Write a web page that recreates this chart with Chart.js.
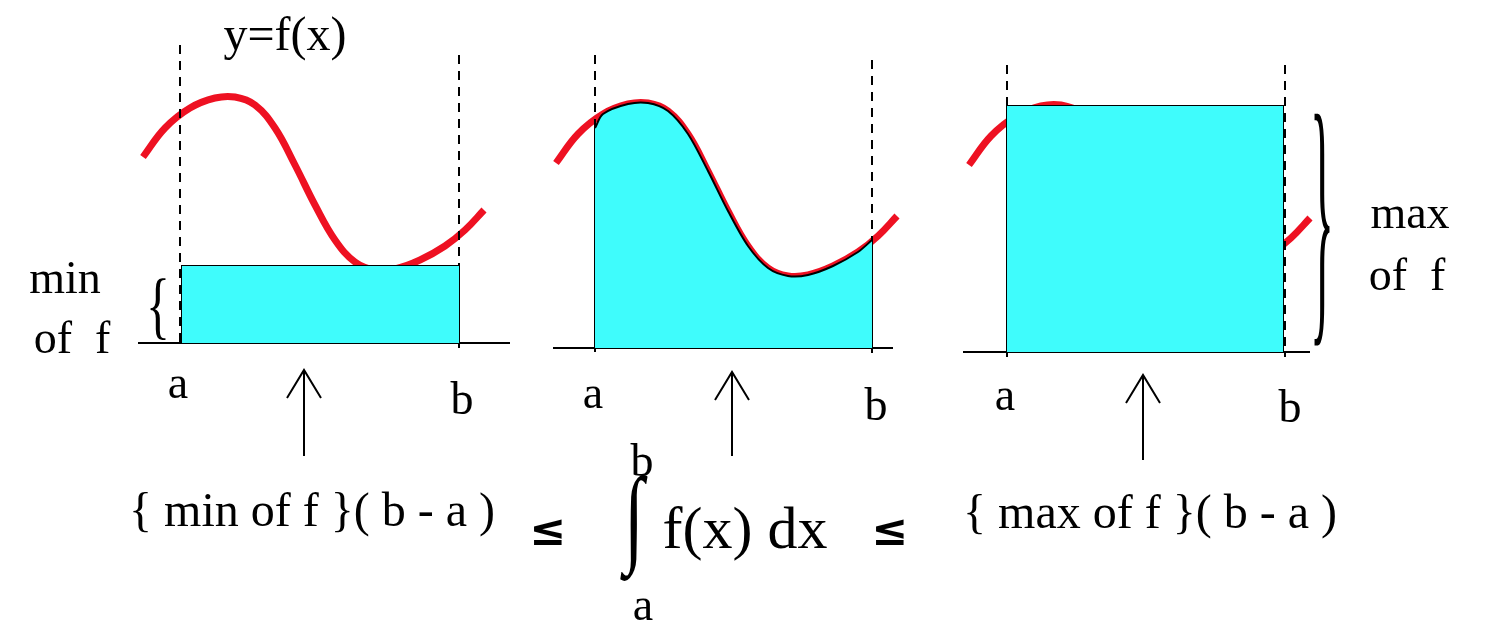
<!DOCTYPE html>
<html><head><meta charset="utf-8">
<script src="https://cdn.jsdelivr.net/npm/chart.js@4/dist/chart.umd.min.js"></script>
<style>html,body{margin:0;padding:0;background:#fff}canvas{display:block}</style>
</head><body>
<canvas id="c" width="1487" height="631"></canvas>
<script>
// curve shape (x, y) sampled from panel 1
const curveX = [143,165,190,215,235,255,275,295,315,335,355,375,395,420,445,465,484];
const curveY = [157,128,108,98,97,105,128,165,205,240,262,270,269,260,246,230,210];
// panel offsets [dx, dy]
const panelShift = [[0,0],[413,6],[826,8]];
const aX = [180,595,1007], bX = [459,872,1285];
const baseY = [343,348,352];
const baseFrom = [138,553,963], baseTo = [510,893,1310];
const minTop = 266, maxTop = 106;

const curve = p => curveX.map((x,i)=>({x:x+panelShift[p][0], y:curveY[i]+panelShift[p][1]}));
const ds = [];
const line = (data, o={}) => ds.push(Object.assign({data, borderColor:'#000', borderWidth:2, pointRadius:0, fill:false, tension:0}, o));

// rectangles: fill then outline
const rect = (x1,x2,top,base) => {
  line([{x:x1,y:top},{x:x2,y:top}], {fill:{value:base}, backgroundColor:'#3ffcfc', borderWidth:0});
  line([{x:x1,y:base},{x:x1,y:top},{x:x2,y:top},{x:x2,y:base}]);
};
rect(182,459,minTop,baseY[0]);
rect(1007,1283,maxTop,baseY[2]);
// area under curve panel 2
{
  const c = curve(1).filter(q=>q.x>=595 && q.x<=872);
  line([{x:595,y:128}, ...c, {x:872,y:240}], {fill:{value:baseY[1]}, backgroundColor:'#3ffcfc', tension:0.3});
  line([{x:595,y:baseY[1]},{x:595,y:128}]);
  line([{x:872,y:baseY[1]},{x:872,y:240}]);
}
for (let p=0;p<3;p++){
  line([{x:baseFrom[p],y:baseY[p]},{x:baseTo[p],y:baseY[p]}]);
  line([{x:aX[p],y:45+p*10},{x:aX[p],y:baseY[p]+5}], {borderDash:[9,7]});
  line([{x:bX[p],y:55+p*5},{x:bX[p],y:baseY[p]+5}], {borderDash:[9,7]});
}
for (let p=0;p<3;p++) line(curve(p), {borderColor:'#ee1122', borderWidth:7, tension:0.4});
// arrows
const arrowX=[304,732,1143], arrowTop=[370,372,375], arrowBot=[456,456,460];
for (let p=0;p<3;p++){
  line([{x:arrowX[p],y:arrowBot[p]},{x:arrowX[p],y:arrowTop[p]}]);
  line([{x:arrowX[p]-17,y:arrowTop[p]+28},{x:arrowX[p],y:arrowTop[p]},{x:arrowX[p]+17,y:arrowTop[p]+28}]);
}

const labels = [
  ['y=f(x)',285,50,48],['min',65,293,46],['of  f',72,353,46],
  ['a',178,398,46],['b',462,414,46],['a',593,408,46],['b',876,420,46],['a',1005,410,46],['b',1290,422,46],
  ['max',1410,228,46],['of  f',1407,290,46],
  ['{ min of f }( b - a )',312,526,48],['{ max of f }( b - a )',1150,528,48],
  ['b',642,476,46],['a',643,620,46],['f(x) dx',745,548,60]
];
const textPlugin = {id:'txt', afterDraw(ch){
  const g=ch.ctx; g.save(); g.fillStyle='#000'; g.textAlign='center'; g.textBaseline='alphabetic';
  const sx=v=>ch.scales.x.getPixelForValue(v), sy=v=>ch.scales.y.getPixelForValue(v);
  for (const [t,x,y,s] of labels){ g.font=s+'px "Liberation Serif"'; g.fillText(t,sx(x),sy(y)); }
  g.font='bold 44px "DejaVu Sans"'; g.fillText('≤',sx(548),sy(545)); g.fillText('≤',sx(890),sy(545));
  g.save(); g.translate(sx(634),sy(552)); g.scale(1,1.5); g.font='72px "Liberation Serif"'; g.fillText('∫',0,0); g.restore();
  g.save(); g.translate(sx(158),sy(330)); g.scale(1,1.5); g.font='50px "Liberation Serif"'; g.fillText('{',0,0); g.restore();
  g.save(); g.translate(sx(1322),sy(308)); g.scale(1,5.6); g.font='50px "Liberation Serif"'; g.fillText('}',0,0); g.restore();
  g.restore();
}};

new Chart(document.getElementById('c'), {
  type:'line', data:{datasets:ds},
  options:{responsive:false, animation:false, devicePixelRatio:1, layout:{padding:0},
    plugins:{legend:{display:false}, tooltip:{enabled:false}},
    scales:{x:{type:'linear',min:0,max:1487,display:false}, y:{type:'linear',min:0,max:631,reverse:true,display:false}}},
  plugins:[textPlugin]
});
</script>
</body></html>
